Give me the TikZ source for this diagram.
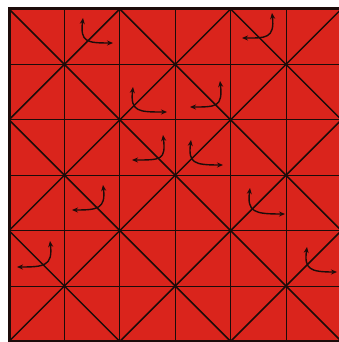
\documentclass[tikz,border=0pt]{standalone}
\usetikzlibrary{arrows.meta}
\definecolor{bg}{RGB}{218,36,28}
\definecolor{ink}{RGB}{28,12,10}
\begin{document}
\begin{tikzpicture}[x=1pt,y=-1pt,
  gridline/.style={ink, line width=0.7pt},
  diag/.style={ink, line width=1.5pt},
  arr/.style={ink, line width=1.4pt, {Stealth[length=6pt,width=5pt]}-{Stealth[length=6pt,width=5pt]}}]
\useasboundingbox (0,0) rectangle (338,342);
\fill[white] (0,0) rectangle (338,342);
\fill[bg] (9,9) rectangle (341.4,341.4);
\begin{scope}
  \clip (9,9) rectangle (341.4,341.4);
  \foreach \i in {1,...,5} {
    \draw[gridline] (9+55.4*\i,9) -- (9+55.4*\i,341.4);
    \draw[gridline] (9,9+55.4*\i) -- (341.4,9+55.4*\i);
  }
  \foreach \d in {-4,-2,0,2,4}
    \draw[diag] (9+55.4*\d,9) -- (9+55.4*\d+332.4,341.4);
  \foreach \s in {2,4,6,8,10}
    \draw[diag] (9+55.4*\s,9) -- (9+55.4*\s-332.4,341.4);
\end{scope}
\draw[ink, line width=3pt] (9,9) rectangle (341.4,341.4);
% arrow pairs
\draw[arr] (83,18) .. controls (80,42) and (87,43) .. (113,43);
\draw[arr] (272,13) .. controls (275,39) and (265,38) .. (242,38);
\draw[arr] (133,87) .. controls (130,112) and (139,112) .. (167,112);
\draw[arr] (163,135) .. controls (166,160) and (161,160) .. (132,160);
\draw[arr] (220,81) .. controls (223,107) and (216,107) .. (190,107);
\draw[arr] (191,140) .. controls (188,163) and (194,165) .. (223,165);
\draw[arr] (103,185) .. controls (106,209) and (97,210) .. (72,210);
\draw[arr] (50,241) .. controls (53,266) and (44,267) .. (17,267);
\draw[arr] (250,188) .. controls (247,212) and (254,214) .. (285,214);
\draw[arr] (307,247) .. controls (304,269) and (310,272) .. (337,272);
\end{tikzpicture}
\end{document}
